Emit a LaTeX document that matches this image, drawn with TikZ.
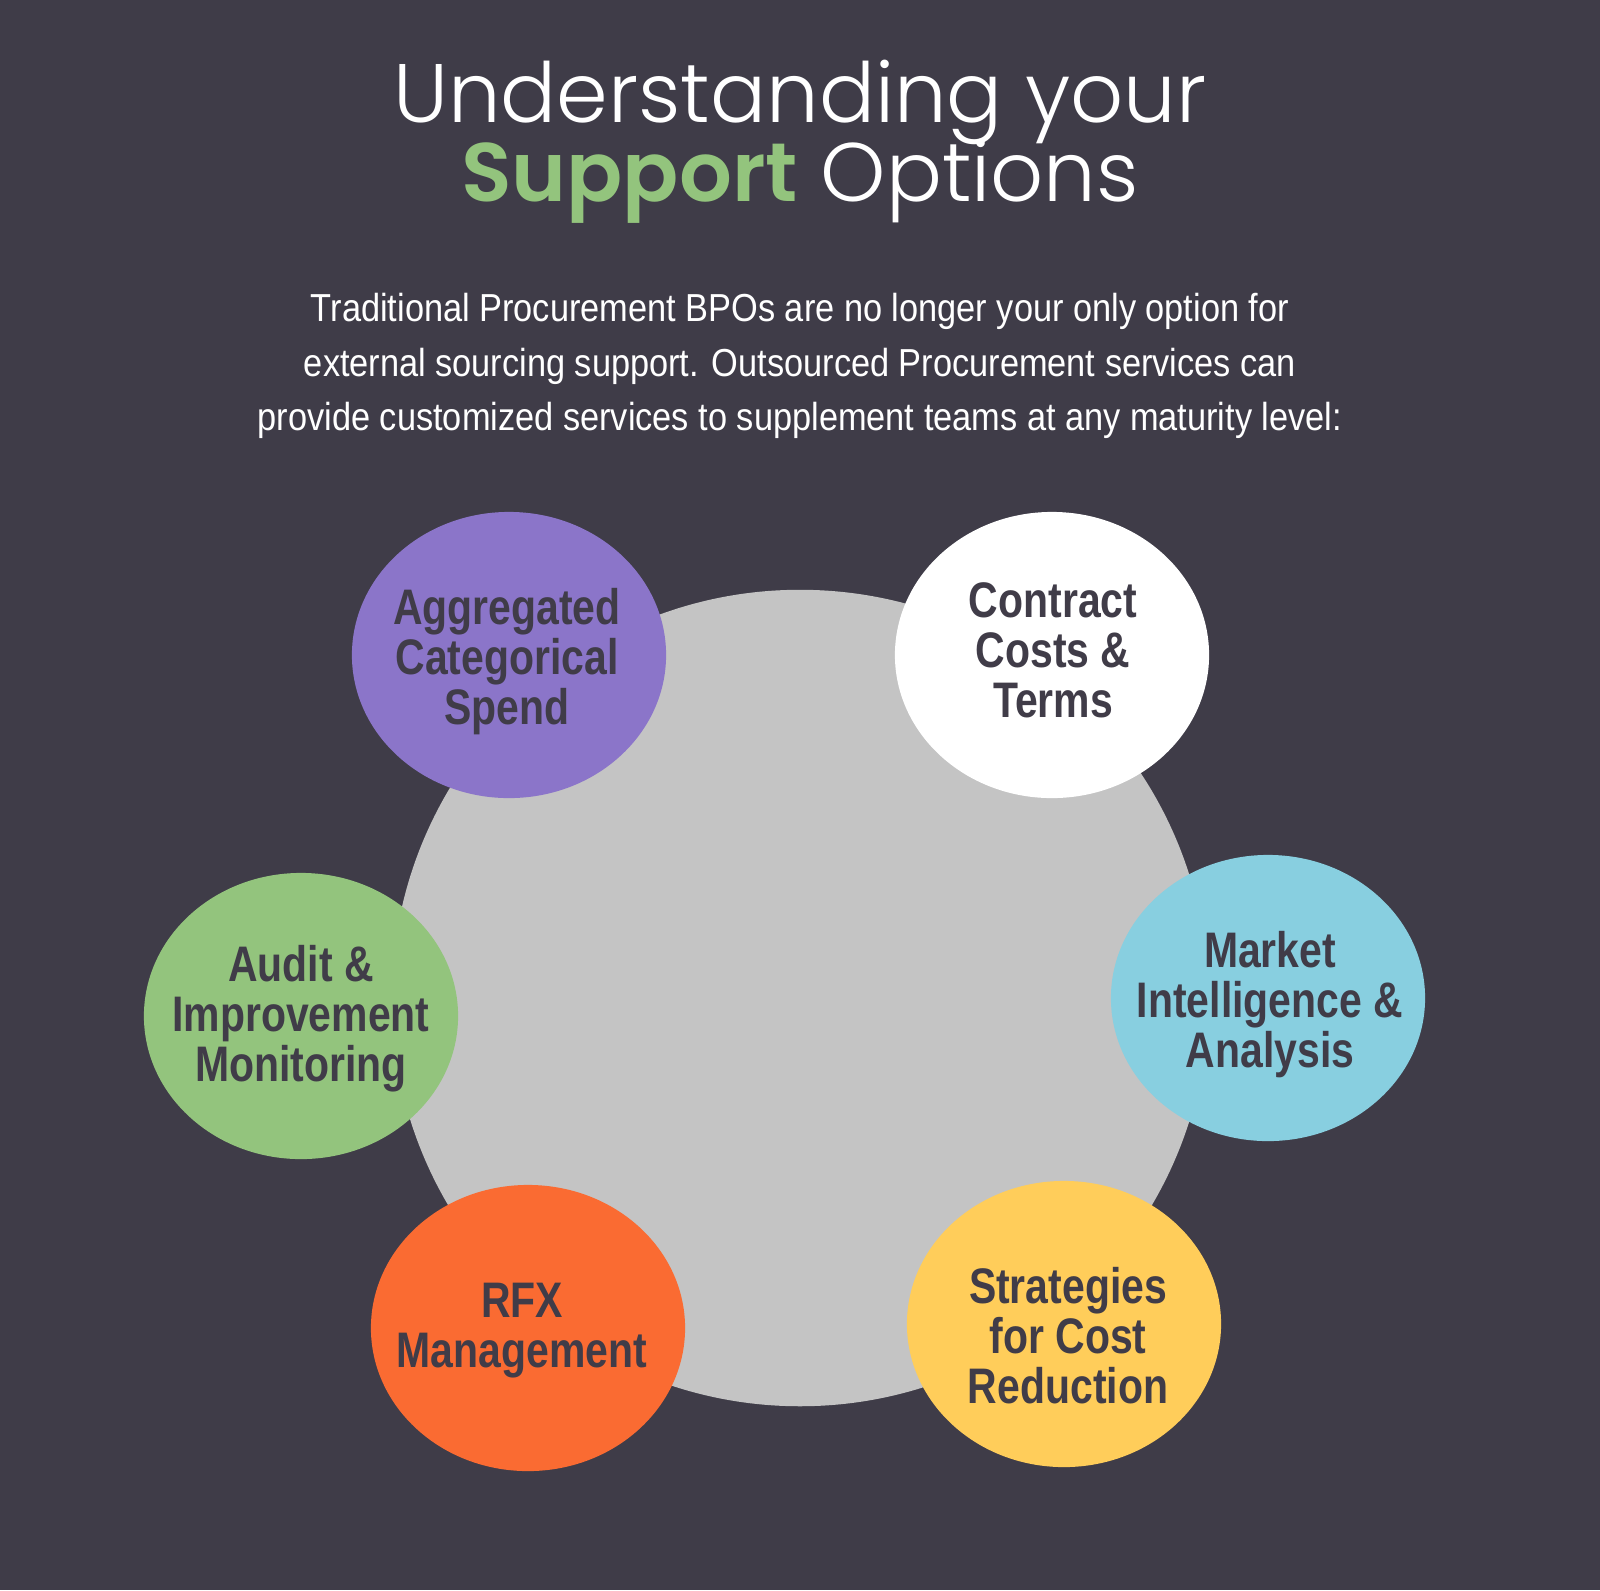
\documentclass[tikz,border=0pt]{standalone}
\usepackage{fontspec}
\usepackage{xcolor}
\usepackage{tikz}
\usetikzlibrary{shapes.geometric,positioning}
\setmainfont{Liberation Sans}
\newfontfamily\headfont{Poppins Light}
\newfontfamily\headboldfont{Poppins SemiBold}
\newfontfamily\introfont{Liberation Sans}[FakeStretch=0.88]
\newfontfamily\bubblefont{Liberation Sans}[FakeStretch=0.82]
\definecolor{bgdark}{RGB}{63,60,72}
\definecolor{hubgray}{RGB}{196,196,196}
\definecolor{supportgreen}{RGB}{147,196,125}
\definecolor{spendpurple}{RGB}{139,117,201}
\definecolor{auditgreen}{RGB}{147,196,125}
\definecolor{rfxorange}{RGB}{250,107,50}
\definecolor{costyellow}{RGB}{255,205,90}
\definecolor{marketblue}{RGB}{136,207,224}
\definecolor{inkdark}{RGB}{64,60,72}

\begin{document}
\begin{tikzpicture}[
    x=0.01cm, y=-0.01cm,
    headline/.style={anchor=base, text=white, inner sep=0pt, font=\headfont\fontsize{23.6}{23.6}\selectfont},
    introline/.style={anchor=base, text=white, inner sep=0pt, font=\introfont\fontsize{11.1}{11.1}\selectfont},
    bubble/.style={ellipse, minimum width=3.14cm, minimum height=2.86cm, inner sep=0pt},
    bubbletext/.style={align=center, inner sep=0pt, text=inkdark,
        font=\bubblefont\bfseries\fontsize{14.2}{14.2}\selectfont},
]
    % background
    \fill[bgdark] (0,0) rectangle (1600,1590);
    \useasboundingbox (0,0) rectangle (1600,1590);
    % title
    \node[headline] (titletop) at (800,122) {Understanding your};
    \node[headline] (titlebot) at (800,201) {\textcolor{supportgreen}{\headboldfont Support} Options};
    % intro text
    \node[introline] (intro1) at (800,321) {Traditional Procurement BPOs are no longer your only option for};
    \node[introline] (intro2) at (800,376) {external sourcing support. Outsourced Procurement services can};
    \node[introline] (intro3) at (800,430) {provide customized services to supplement teams at any maturity level:};
    % hub circle
    \node[circle, fill=hubgray, minimum size=8.16cm, inner sep=0pt] (hub) at (800,998) {};
    % option bubbles
    \node[bubble, fill=spendpurple] (spend) at (509,655) {};
    \node[bubble, fill=white] (contract) at (1052,655) {};
    \node[bubble, fill=marketblue] (market) at (1268,998) {};
    \node[bubble, fill=auditgreen] (audit) at (301,1016) {};
    \node[bubble, fill=rfxorange] (rfx) at (528,1328) {};
    \node[bubble, fill=costyellow] (cost) at (1064,1324) {};
    % bubble labels
    \node[bubbletext] (spendtext) at (507,662) {Aggregated\\Categorical\\Spend};
    \node[bubbletext] (contracttext) at (1053,650) {Contract\\Costs \&\\Terms};
    \node[bubbletext] (markettext) at (1270,1005) {Market\\Intelligence \&\\Analysis};
    \node[bubbletext] (audittext) at (301,1019) {Audit \&\\Improvement\\Monitoring};
    \node[bubbletext] (rfxtext) at (522,1331) {RFX\\Management};
    \node[bubbletext] (costtext) at (1068,1336) {Strategies\\for Cost\\Reduction};
\end{tikzpicture}
\end{document}
